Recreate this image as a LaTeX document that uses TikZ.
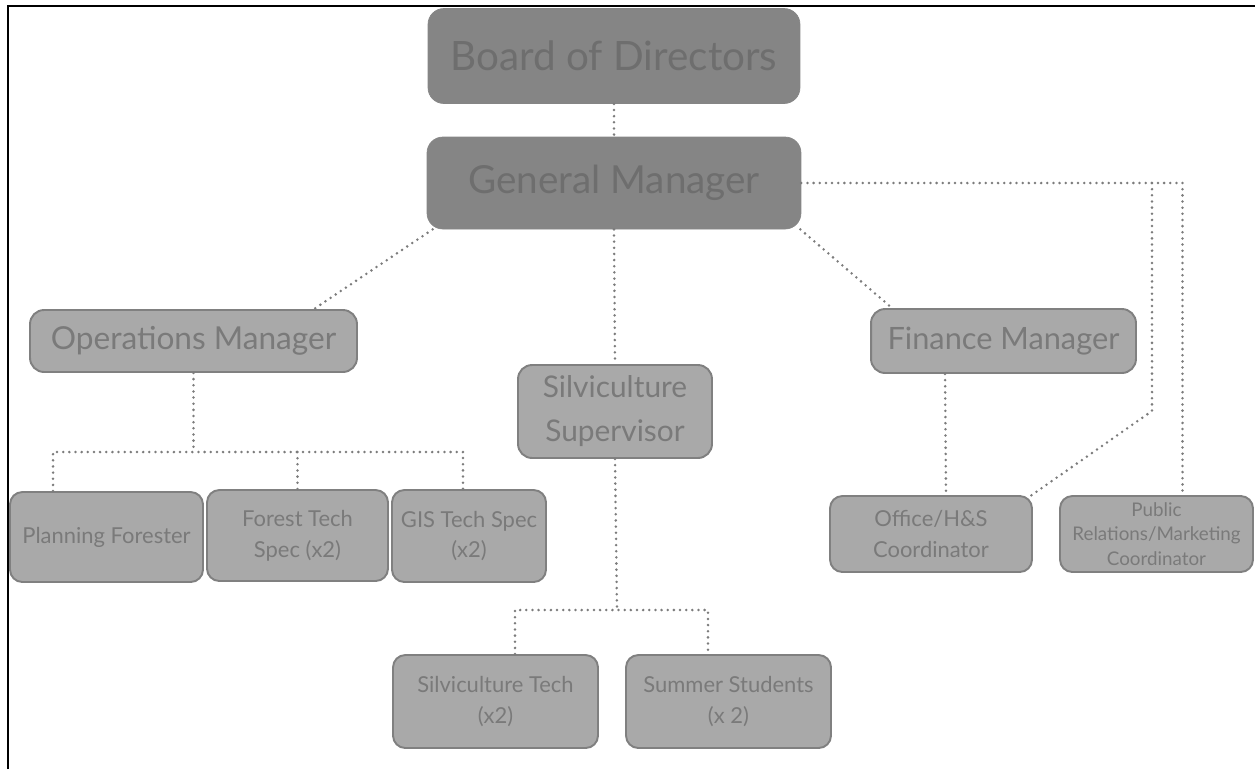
\documentclass[tikz,border=0pt]{standalone}
\usepackage{fontspec}
\setmainfont{Lato}
\usetikzlibrary{calc}

\definecolor{topfill}{HTML}{858585}
\definecolor{toptext}{HTML}{6E6E6E}
\definecolor{boxfill}{HTML}{A9A9A9}
\definecolor{boxline}{HTML}{808080}
\definecolor{boxtext}{HTML}{7A7A7A}
\definecolor{dotcol}{HTML}{7C7C7C}

\tikzset{
  topbox/.style={draw=topfill, fill=topfill, text=toptext, rounded corners=9pt,
    font=\fontsize{23}{27}\selectfont},
  midbox/.style={draw=boxline, line width=1.1pt, fill=boxfill, text=boxtext,
    rounded corners=8pt, align=center, font=\fontsize{18}{25}\selectfont},
  lowbox/.style={draw=boxline, line width=1.1pt, fill=boxfill, text=boxtext,
    rounded corners=7pt, align=center, font=\fontsize{12.5}{17.5}\selectfont},
  link/.style={draw=dotcol, line width=1.6pt, line cap=round, dash pattern=on 0pt off 3.5pt}
}

\begin{document}
\begin{tikzpicture}[x=0.02cm, y=-0.02cm]
\useasboundingbox (0,0) rectangle (1255,769);

% Top
\node[topbox, minimum width=7.44cm, minimum height=1.9cm] (bod) at (614,56) {Board of Directors};
\node[topbox, minimum width=7.48cm, minimum height=1.84cm, font=\fontsize{22}{26}\selectfont] (gm) at (614,183) {General Manager};

% Managers
\node[midbox, minimum width=6.54cm, minimum height=1.24cm] (ops) at (193.5,341) {Operations Manager};
\node[midbox, minimum width=5.3cm, minimum height=1.28cm, font=\fontsize{17.5}{25}\selectfont] (fin) at (1003.5,341) {Finance Manager};
\node[midbox, minimum width=3.88cm, minimum height=1.86cm, font=\fontsize{17}{25}\selectfont] (sup) at (615,411.5) {Silviculture\\Supervisor};

% Operations staff
\node[lowbox, minimum width=3.86cm, minimum height=1.8cm] (plan) at (106.5,537) {Planning Forester};
\node[lowbox, minimum width=3.62cm, minimum height=1.82cm] (ftech) at (297.5,535.5) {Forest Tech\\Spec (x2)};
\node[lowbox, minimum width=3.08cm, minimum height=1.84cm] (gis) at (469,536) {GIS Tech Spec\\(x2)};

% Finance staff
\node[lowbox, minimum width=4.04cm, minimum height=1.52cm] (office) at (931,534) {Office/H\&S\\Coordinator};
\node[lowbox, minimum width=3.86cm, minimum height=1.52cm, font=\fontsize{10.7}{14}\selectfont] (pr) at (1156.5,534) {Public\\Relations/Marketing\\Coordinator};

% Silviculture staff
\node[lowbox, minimum width=4.1cm, minimum height=1.86cm] (stech) at (495.5,701.5) {Silviculture Tech\\(x2)};
\node[lowbox, minimum width=4.1cm, minimum height=1.86cm] (stud) at (728.5,701.5) {Summer Students\\(x 2)};

% Links
\coordinate (opsbus) at (193.5,452);
\coordinate (supbus) at (617,610);
\coordinate (gmside) at (1152,183);
\coordinate (bend) at (1152,411);

\draw[link] (bod.south) -- (gm.north);
\draw[link] (gm.south) -- (sup.north);
\draw[link] ($(gm.south west)+(6,0)$) -- ($(ops.north east)+(-44,0)$);
\draw[link] ($(gm.south east)+(-1,0)$) -- ($(fin.north west)+(22,0)$);
\draw[link] (gm.east) -| ($(pr.north)+(26,0)$);
\draw[link] (gmside) -- (bend) -- ($(office.north east)+(-4,2)$);
\draw[link] ($(fin.south west)+(75,0)$) -- ($(office.north)+(15,0)$);

\draw[link] (ops.south) -- (opsbus);
\draw[link] ($(plan.north west)+(44,0)$) |- (opsbus) -| ($(gis.north)+(-6,0)$);
\draw[link] (opsbus -| ftech.north) -- (ftech.north);

\draw[link] (sup.south) -- (supbus);
\draw[link] ($(stech.north)+(19.5,0)$) |- (supbus) -| ($(stud.north)+(-20.5,0)$);

% Frame
\draw[line width=1.2pt] (8,769) -- (8,6) -- (1255,6);
\end{tikzpicture}
\end{document}
